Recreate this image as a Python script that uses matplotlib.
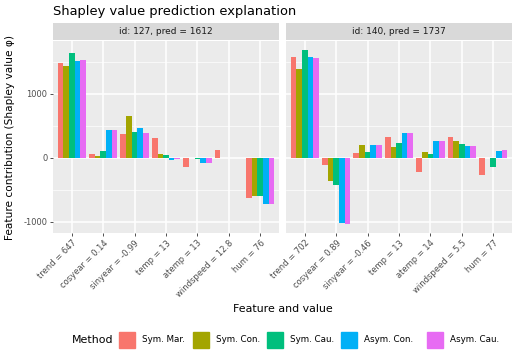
import matplotlib
matplotlib.use("Agg")
import matplotlib.pyplot as plt
import matplotlib.patches as mpatches
import numpy as np

methods = ["Sym. Mar.", "Sym. Con.", "Sym. Cau.", "Asym. Con.", "Asym. Cau."]
colors = ["#F8766D", "#A3A500", "#00BF7D", "#00B0F6", "#E76BF3"]

features_127 = ["trend = 647", "cosyear = 0.14", "sinyear = -0.99", "temp = 13",
                "atemp = 13", "windspeed = 12.8", "hum = 76"]
features_140 = ["trend = 702", "cosyear = 0.89", "sinyear = -0.46", "temp = 13",
                "atemp = 14", "windspeed = 5.5", "hum = 77"]

# rows: methods, columns: features
phi_127 = [
    [1479, 52, 380, 302, -146, 115, -635],
    [1443, 21, 661, 52, -10, 0, -604],
    [1646, 99, 411, 36, -16, 0, -604],
    [1510, 443, 474, -31, -89, 0, -724],
    [1536, 443, 396, -16, -89, 0, -724],
]
phi_140 = [
    [1583, -115, 68, 333, -224, 318, -271],
    [1396, -370, 193, 161, 83, 255, -10],
    [1693, -427, 83, 224, 52, 208, -146],
    [1583, -1021, 193, 396, 255, 177, 99],
    [1568, -1042, 193, 396, 255, 177, 115],
]

panels = [("id: 127, pred = 1612", features_127, phi_127),
          ("id: 140, pred = 1737", features_140, phi_140)]

W, H = 518, 360
fig = plt.figure(figsize=(W / 100, H / 100), dpi=100)


def px_axes(x0, y0, x1, y1):
    return fig.add_axes([x0 / W, 1 - y1 / H, (x1 - x0) / W, (y1 - y0) / H])


all_vals = np.concatenate([np.ravel(phi_127), np.ravel(phi_140)])
lo, hi = all_vals.min(), all_vals.max()
pad = 0.05 * (hi - lo)
ylim = (lo - pad, hi + pad)

lefts = [53, 286]
width = 226
bar_w = 0.18
tick_fs = 6
for k, (strip, feats, phi) in enumerate(panels):
    x0 = lefts[k]
    ax = px_axes(x0, 41, x0 + width, 233)
    ax.set_facecolor("#EBEBEB")
    x = np.arange(len(feats))
    for m in range(len(methods)):
        ax.bar(x + (m - 2) * bar_w, phi[m], width=bar_w, color=colors[m], zorder=3)
    ax.set_xlim(-0.6, len(feats) - 0.4)
    ax.set_ylim(*ylim)
    ax.set_yticks([-1000, 0, 1000])
    ax.set_yticks([-500, 500, 1500], minor=True)
    ax.set_xticks(x)
    ax.set_xticklabels(feats, rotation=45, ha="right", rotation_mode="anchor",
                       fontsize=tick_fs, color="#4D4D4D")
    ax.grid(True, which="major", color="white", linewidth=1.1, zorder=0)
    ax.grid(True, which="minor", axis="y", color="white", linewidth=0.5, zorder=0)
    ax.set_axisbelow(True)
    for s in ax.spines.values():
        s.set_visible(False)
    ax.tick_params(axis="both", which="major", length=2.5, width=0.6, color="#333333",
                   labelsize=tick_fs, labelcolor="#4D4D4D", pad=1.5)
    ax.tick_params(axis="both", which="minor", length=0)
    if k == 0:
        ax.set_yticklabels(["-1000", "0", "1000"])
    else:
        ax.set_yticklabels([])
        ax.tick_params(axis="y", which="major", length=0)

    sax = px_axes(x0, 23, x0 + width, 40)
    sax.set_facecolor("#D9D9D9")
    sax.set_xticks([])
    sax.set_yticks([])
    for s in sax.spines.values():
        s.set_visible(False)
    sax.text(0.5, 0.5, strip, ha="center", va="center", fontsize=6.5, color="#1A1A1A",
             transform=sax.transAxes)

fig.text(53 / W, 1 - 11 / H, "Shapley value prediction explanation", fontsize=9.4,
         ha="left", va="center", color="black")
fig.text(283 / W, 1 - 309 / H, "Feature and value", fontsize=7.9, ha="center",
         va="center")
fig.text(10 / W, 1 - 137 / H, "Feature contribution (Shapley value \u03c6)", fontsize=7.6,
         ha="center", va="center", rotation=90)

# legend drawn by hand so the title sits to the left of the keys
fig.text(72 / W, 1 - 340 / H, "Method", fontsize=7.9, ha="left", va="center")
key_x = [119, 193, 267, 341, 427]
for kx, c, m in zip(key_x, colors, methods):
    fig.patches.append(mpatches.Rectangle((kx / W, 1 - 348 / H), 16 / W, 16 / H,
                                          color=c, transform=fig.transFigure, figure=fig))
    fig.text((kx + 23) / W, 1 - 340 / H, m, fontsize=6.3, ha="left", va="center")

fig.savefig("out.png", dpi=100)
